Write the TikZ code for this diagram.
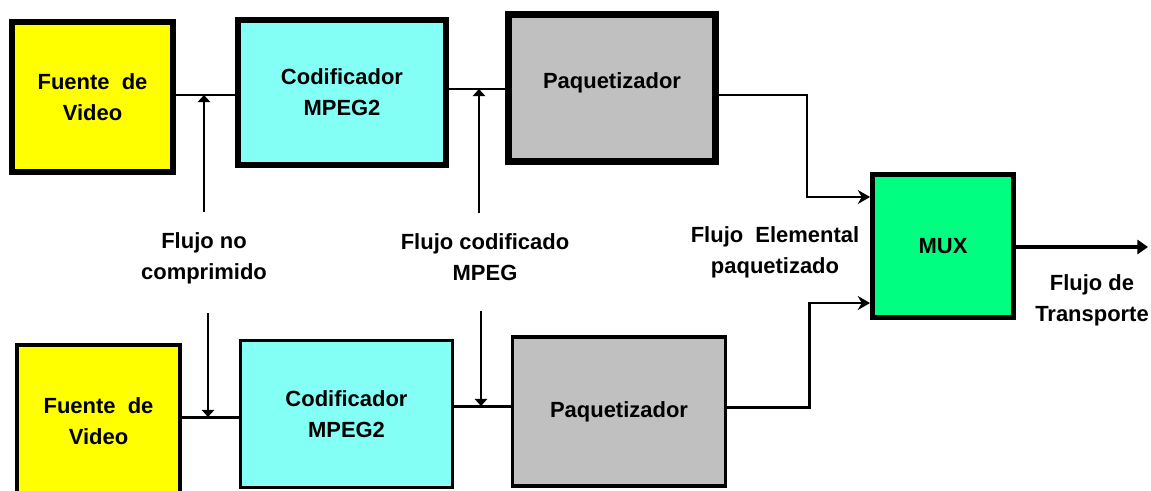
\documentclass[tikz,border=0pt]{standalone}
\usepackage{fontspec}
\setmainfont{Liberation Sans}
\usepackage{xcolor}
\usetikzlibrary{arrows.meta,positioning,calc}

\definecolor{fuenteyel}{HTML}{FFFF00}
\definecolor{codcyan}{HTML}{84FFF6}
\definecolor{paqgray}{HTML}{C0C0C0}
\definecolor{muxgreen}{HTML}{00FF80}

\begin{document}
\begin{tikzpicture}[
  x=0.02cm, y=-0.02cm,
  every node/.style={font=\fontsize{12.5}{17.6}\selectfont\bfseries},
  stepbox/.style={rectangle, draw, align=center, inner sep=0pt},
  topbox/.style={stepbox, line width=3.3pt},
  botbox/.style={stepbox, line width=2.2pt},
  lbl/.style={align=center, inner sep=0pt},
  thinline/.style={line width=0.8pt},
  thickline/.style={line width=1.7pt},
  varr/.style={-{Triangle[width=7pt,length=4pt]}, line width=0.8pt},
  arr/.style={-{Stealth[length=7pt,width=8pt]}},
  outarr/.style={-{Triangle[width=8pt,length=6pt]}, line width=2.2pt},
]
\path[use as bounding box, fill=white] (0,0) rectangle (1151,490);

% Upper chain
\node[topbox, fill=fuenteyel, minimum width=3.22cm, minimum height=3.0cm] (fte1) at (92.5,97) {Fuente \ de\\ Video};
\node[topbox, fill=codcyan, minimum width=4.16cm, minimum height=2.9cm] (cod1) at (342,92.5) {Codificador\\ MPEG2};
\node[topbox, fill=paqgray, line width=3.8pt, minimum width=4.14cm, minimum height=2.94cm, text depth=0.3cm] (paq1) at (612,88) {Paquetizador};

% Lower chain
\node[botbox, line width=2.6pt, fill=fuenteyel, minimum width=3.26cm, minimum height=3.06cm] (fte2) at (98.5,421.5) {Fuente \ de\\ Video};
\node[botbox, fill=codcyan, minimum width=4.24cm, minimum height=2.94cm] (cod2) at (346.5,414) {Codificador\\ MPEG2};
\node[botbox, fill=paqgray, minimum width=4.26cm, minimum height=2.97cm] (paq2) at (619,411.5) {Paquetizador};

% Multiplexer
\node[stepbox, line width=2.8pt, fill=muxgreen, minimum width=2.82cm, minimum height=2.86cm] (mux) at (943,246) {MUX};

% Labels
\node[lbl] (nocomp) at (204,258) {Flujo no\\ comprimido};
\node[lbl] (codmpeg) at (485,257) {Flujo codificado\\ MPEG};
\node[lbl] (elem) at (775,252) {Flujo \ Elemental\\ paquetizado};
\node[lbl] (transp) at (1092,300) {Flujo de\\ Transporte};

% Junctions
\coordinate (j1) at (204,95);
\coordinate (j2) at (479,89);
\coordinate (j3) at (208,417);
\coordinate (j4) at (481,406);
\coordinate (k1) at (807,197);
\coordinate (k2) at (809,303);
\coordinate (out) at (1148,247);

% Connectors
\draw[thinline] (fte1.east |- j1) -- (cod1.west |- j1);
\draw[thinline] (cod1.east |- j2) -- (paq1.west |- j2);
\draw[thickline] (fte2.east |- j3) -- (cod2.west |- j3);
\draw[thickline] (cod2.east |- j4) -- (paq2.west |- j4);

\draw[arr, thinline] ([yshift=-0.14cm]paq1.east) -| (k1) -- (mux.west |- k1);
\draw[arr, thickline] ([yshift=0.09cm]paq2.east) -| (k2) -- (mux.west |- k2);
\draw[outarr] (mux.east |- out) -- (out);

% Label pointers
\draw[varr, shorten <=0.4cm] (j1 |- nocomp.north) -- (j1);
\draw[varr, shorten <=0.58cm] (j3 |- nocomp.south) -- (j3);
\draw[varr, shorten <=0.4cm] (j2 |- codmpeg.north) -- (j2);
\draw[varr, shorten <=0.6cm] (j4 |- codmpeg.south) -- (j4);

\end{tikzpicture}
\end{document}
